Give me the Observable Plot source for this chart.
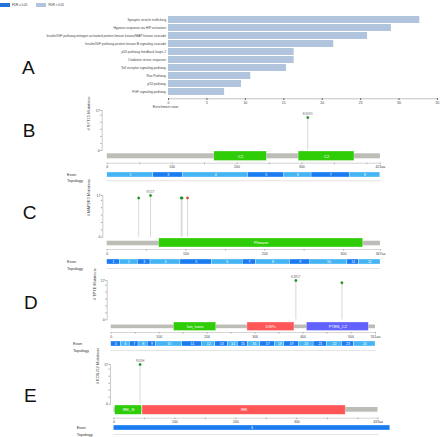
<!DOCTYPE html>
<html><head><meta charset="utf-8">
<script src="https://cdn.jsdelivr.net/npm/d3@7"></script>
<script src="https://cdn.jsdelivr.net/npm/@observablehq/plot@0.6"></script>
<style>
html,body{margin:0;padding:0;background:#fff;}
#root{position:relative;width:440px;height:437px;overflow:hidden;font-family:"Liberation Sans",Arial,sans-serif;color:#333;}
#root svg{position:absolute;left:0;overflow:visible;}
.letter{position:absolute;font-size:19px;color:#111;line-height:1;}
.lab{position:absolute;font-size:4px;line-height:4px;color:#333;white-space:nowrap;}
.sw{position:absolute;width:10px;height:3.4px;top:3.3px;}
</style></head><body><div id="root"></div>
<script>
// ---------- Panel A data ----------
const pathways = [
  "Synaptic vesicle trafficking",
  "Hypoxia response via HIF activation",
  "Insulin/IGF pathway-mitogen activated protein kinase kinase/MAP kinase cascade",
  "Insulin/IGF pathway-protein kinase B signaling cascade",
  "p53 pathway feedback loops 2",
  "Oxidative stress response",
  "Toll receptor signaling pathway",
  "Ras Pathway",
  "p53 pathway",
  "FGF signaling pathway"
];
const enrichment = [32.7, 29.0, 25.9, 21.5, 16.35, 16.35, 15.35, 10.7, 9.5, 7.3];
const fdrLabels = ["FDR ≤ 0.05", "FDR > 0.05"];
const enrichTicks = [0, 5, 10, 15, 20, 25, 30, 35];

// ---------- Panel B: SYT15 ----------
const sytLength = 421;
const sytDomainNames = ["C2", "C2"];
const sytDomainStart = [165, 295];
const sytDomainEnd = [246, 381];
const sytMutPos = [309];
const sytMutCount = [14];
const sytMutLabel = ["E309D"];
const sytMutType = ["missense"];
const sytExonNums = [2, 3, 4, 5, 6, 7, 8];
const sytExonBounds = [0, 71, 117, 217, 273, 315, 374, 421];

// ---------- Panel C: MAP2K3 ----------
const mapLength = 347;
const mapDomainNames = ["Pkinase"];
const mapDomainStart = [66];
const mapDomainEnd = [325];
const mapMutPos = [40, 55, 94, 95, 102];
const mapMutCount = [16, 17, 16, 16, 16];
const mapMutLabel = ["", "R55T", "", "", ""];
const mapMutType = ["missense", "missense", "missense", "missense", "other"];
const mapExonNums = [1, 2, 3, 4, 5, 6, 7, 8, 9, 10, 11, 12];
const mapExonBounds = [0, 16, 39, 55, 93, 133, 172, 189, 232, 258, 305, 320, 347];

// ---------- Panel D: TPTE ----------
const tpteLength = 551;
const tpteDomainNames = ["Ion_trans", "DSPc", "PTEN_C2"];
const tpteDomainStart = [131, 284, 408];
const tpteDomainEnd = [219, 382, 537];
const tpteMutPos = [385, 481];
const tpteMutCount = [17, 16];
const tpteMutLabel = ["K385T", ""];
const tpteMutType = ["missense", "missense"];
const tpteExonNums = [5, 6, 7, 8, 9, 10, 11, 12, 13, 14, 15, 16, 17, 18, 19, 20, 21, 22, 23, 24];
const tpteExonBounds = [0, 20, 39, 57, 76, 94, 148, 190, 217, 244, 264, 285, 311, 342, 361, 391, 422, 450, 481, 506, 551];

// ---------- Panel E: KCNJ12 ----------
const kcnLength = 433;
const kcnDomainNames = ["IRK_N", "IRK"];
const kcnDomainStart = [2, 47];
const kcnDomainEnd = [46, 380];
const kcnMutPos = [43];
const kcnMutCount = [17];
const kcnMutLabel = ["R43H"];
const kcnMutType = ["missense"];
const kcnExonNums = [3];
const kcnExonBounds = [0, 453];

// ---------- styles / layout ----------
const FONT = "Liberation Sans, Arial, sans-serif";
const domainColor = {C2: "#2fcc08", Pkinase: "#2fcc08", Ion_trans: "#2fcc08", IRK_N: "#2fcc08", DSPc: "#ff5757", IRK: "#ff5757", PTEN_C2: "#6262ff"};
const mutColor = {missense: "#1c8f1c", other: "#d9462a"};
const exonDark = "#1b7cf2", exonLight = "#44b4f5";
const root = document.getElementById("root");
const baseStyle = {background: "none", fontFamily: FONT, color: "#444", overflow: "visible"};

function place(el, top) { el.style.top = top + "px"; root.appendChild(el); }
function addLabel(text, x, y, cls) {
  const d = document.createElement("div"); d.className = cls || "lab"; d.textContent = text;
  d.style.left = x + "px"; d.style.top = y + "px"; root.appendChild(d); return d;
}

// ---------- Panel A ----------
const aData = pathways.map((p, i) => ({pathway: p, ratio: enrichment[i], fdr: fdrLabels[1]}));
const plotA = Plot.plot({
  width: 440, height: 112, marginTop: 13, marginBottom: 13.7, marginLeft: 168, marginRight: 3,
  style: baseStyle,
  x: {domain: [0, 35]},
  y: {domain: pathways, padding: 0.14},
  color: {domain: fdrLabels, range: ["#2373d9", "#b1c4de"]},
  marks: [
    Plot.barX(aData, {x: "ratio", y: "pathway", fill: "fdr"}),
    Plot.frame({anchor: "bottom", stroke: "#999", strokeWidth: 0.6}),
    Plot.axisX({ticks: enrichTicks, tickSize: 1.5, tickPadding: 1, fontSize: 3.5, label: null}),
    Plot.axisY({tickSize: 0, tickPadding: 2.5, fontSize: 3.3, label: null}),
    Plot.text(["Enrichment ratio"], {x: [0], frameAnchor: "bottom", dy: 9, dx: -3, fontSize: 3.5})
  ]
});
place(plotA, 0);

// legend
const sw1 = document.createElement("div"); sw1.className = "sw"; sw1.style.left = "0px"; sw1.style.background = "#2373d9"; root.appendChild(sw1);
const sw2 = document.createElement("div"); sw2.className = "sw"; sw2.style.left = "36px"; sw2.style.background = "#b1c4de"; root.appendChild(sw2);
const l1 = addLabel(fdrLabels[0], 12, 3.4); l1.style.fontSize = "3px";
const l2 = addLabel(fdrLabels[1], 48.5, 3.4); l2.style.fontSize = "3px";

// ---------- gene panels ----------
function aaTicks(L) { const t = d3.range(0, L, 50); if (L - t[t.length - 1] < 10) t.pop(); t.push(L); return t; }
function aaFormat(L) { return d => d === L ? L + "aa" : (d % 100 === 0 && L - d >= 40) ? String(d) : ""; }

function genePanel(cfg, gene, L, dNames, dStart, dEnd, mPos, mCount, mLabel, mType, eNums, eBounds) {
  const muts = mPos.map((p, i) => ({pos: p, count: mCount[i], label: mLabel[i], type: mType[i]}));
  const domains = dNames.map((n, i) => ({name: n, start: dStart[i], end: dEnd[i]}));
  const exons = eNums.map((n, i) => ({num: n, start: eBounds[i], end: eBounds[i + 1]}));

  // lollipops
  const lTop = cfg.y17 - 9;
  const lolli = Plot.plot({
    width: 440, height: cfg.y0 - lTop + 2, marginTop: 9, marginBottom: 2,
    marginLeft: cfg.yAxisX, marginRight: 440 - cfg.x1, style: baseStyle,
    x: {domain: [0, L], range: [cfg.x0, cfg.x1], axis: null},
    y: {domain: [0, 17]},
    marks: [
      Plot.frame({anchor: "left", stroke: "#aaa", strokeWidth: 0.6}),
      Plot.axisY({ticks: [0, 3, 6, 9, 12, 15, 17], tickFormat: d => (d === 0 || d === 17) ? String(d) : "", tickSize: 1.5, tickPadding: 1, fontSize: 3.5, label: null, stroke: "#aaa"}),
      Plot.text(["# " + gene + " Mutations"], {frameAnchor: "left", rotate: -90, dx: cfg.labelX - cfg.yAxisX, fontSize: 4, fill: "#444"}),
      Plot.ruleX(muts, {x: "pos", y1: 0, y2: "count", stroke: "#c8c8c8", strokeWidth: 0.7}),
      Plot.dot(muts, {x: "pos", y: "count", r: 1.2, fill: d => mutColor[d.type], stroke: d => mutColor[d.type], strokeWidth: 0.3}),
      Plot.text(muts.filter(d => d.label), {x: "pos", y: "count", text: "label", dy: -4, fontSize: 3.3, fill: "#777"})
    ]
  });
  place(lolli, lTop);

  // protein track + aa axis
  const frameH = cfg.axisY - cfg.domTop;
  const prot = Plot.plot({
    width: 440, height: frameH + 8, marginTop: 0, marginBottom: 8,
    marginLeft: cfg.x0, marginRight: 440 - cfg.x1, style: baseStyle,
    x: {domain: [0, L]},
    marks: [
      Plot.barX([{start: 0, end: L}], {x1: "start", x2: "end", fill: "#bdbdb8", insetTop: cfg.bbTop - cfg.domTop, insetBottom: cfg.axisY - cfg.bbBot}),
      Plot.barX(domains, {x1: "start", x2: "end", fill: d => domainColor[d.name], stroke: "#fff", strokeOpacity: 0.6, strokeWidth: 0.5, insetBottom: cfg.axisY - cfg.domBot}),
      Plot.text(domains, {x: d => (d.start + d.end) / 2, text: "name", fill: "white", fontSize: 4, dy: -(cfg.axisY - cfg.domBot) / 2}),
      Plot.frame({anchor: "bottom", stroke: "#bbb", strokeWidth: 0.6}),
      Plot.axisX({ticks: aaTicks(L), tickFormat: aaFormat(L), tickSize: 1.5, tickPadding: 1, fontSize: 3.5, label: null, stroke: "#aaa"})
    ]
  });
  place(prot, cfg.domTop);

  // exon + topology track
  const exH = cfg.topoY - cfg.exTop;
  const ex = Plot.plot({
    width: 440, height: exH + 1, marginTop: 0, marginBottom: 1,
    marginLeft: cfg.x0, marginRight: 440 - cfg.x1, style: baseStyle,
    x: {domain: [0, L], axis: null},
    marks: [
      Plot.frame({anchor: "bottom", stroke: "#d4d4d4", strokeWidth: 0.6, strokeDasharray: "0.8,0.8"}),
      Plot.barX(exons, {x1: "start", x2: "end", fill: d => d.num % 2 ? exonDark : exonLight, stroke: "white", strokeWidth: 0.3, insetBottom: cfg.topoY - cfg.exBot}),
      Plot.text(exons, {x: d => (d.start + d.end) / 2, text: d => String(d.num), fill: "white", fontSize: 3.5, dy: -(cfg.topoY - cfg.exBot) / 2})
    ]
  });
  place(ex, cfg.exTop);

  addLabel("Exon", cfg.exonLabX, (cfg.exTop + cfg.exBot) / 2 - 2);
  addLabel("Topology", cfg.exonLabX, cfg.topoY - 1.5);
}

const cfgB = {x0: 106.7, x1: 380, yAxisX: 101.7, labelX: 88, y17: 110, y0: 150, domTop: 151, domBot: 160.5, bbTop: 153.3, bbBot: 158.3, axisY: 162.7, exTop: 172.3, exBot: 177.3, topoY: 180.5, exonLabX: 67};
const cfgC = {x0: 106.7, x1: 380, yAxisX: 102.3, labelX: 88, y17: 195, y0: 236.7, domTop: 238, domBot: 247, bbTop: 240.7, bbBot: 245.3, axisY: 249, exTop: 259, exBot: 264, topoY: 268, exonLabX: 67};
const cfgD = {x0: 110.7, x1: 375, yAxisX: 106.7, labelX: 94, y17: 280, y0: 319.3, domTop: 321.5, domBot: 330, bbTop: 324, bbBot: 327.7, axisY: 331.5, exTop: 341, exBot: 346, topoY: 350, exonLabX: 73};
const cfgE = {x0: 113.3, x1: 377.6, yAxisX: 110, labelX: 97, y17: 364.3, y0: 404, domTop: 405, domBot: 414.3, bbTop: 407, bbBot: 411.7, axisY: 417.7, exTop: 425, exBot: 430, topoY: 434, exonLabX: 76.7};

genePanel(cfgB, "SYT15", sytLength, sytDomainNames, sytDomainStart, sytDomainEnd, sytMutPos, sytMutCount, sytMutLabel, sytMutType, sytExonNums, sytExonBounds);
genePanel(cfgC, "MAP2K3", mapLength, mapDomainNames, mapDomainStart, mapDomainEnd, mapMutPos, mapMutCount, mapMutLabel, mapMutType, mapExonNums, mapExonBounds);
genePanel(cfgD, "TPTE", tpteLength, tpteDomainNames, tpteDomainStart, tpteDomainEnd, tpteMutPos, tpteMutCount, tpteMutLabel, tpteMutType, tpteExonNums, tpteExonBounds);
genePanel(cfgE, "KCNJ12", kcnLength, kcnDomainNames, kcnDomainStart, kcnDomainEnd, kcnMutPos, kcnMutCount, kcnMutLabel, kcnMutType, kcnExonNums, kcnExonBounds);

// panel letters
[["A", 22, 57.5], ["B", 22.7, 120.5], ["C", 22.7, 202.5], ["D", 24, 292.5], ["E", 24, 385.5]].forEach(([t, x, y]) => addLabel(t, x, y, "letter"));
</script></body></html>
